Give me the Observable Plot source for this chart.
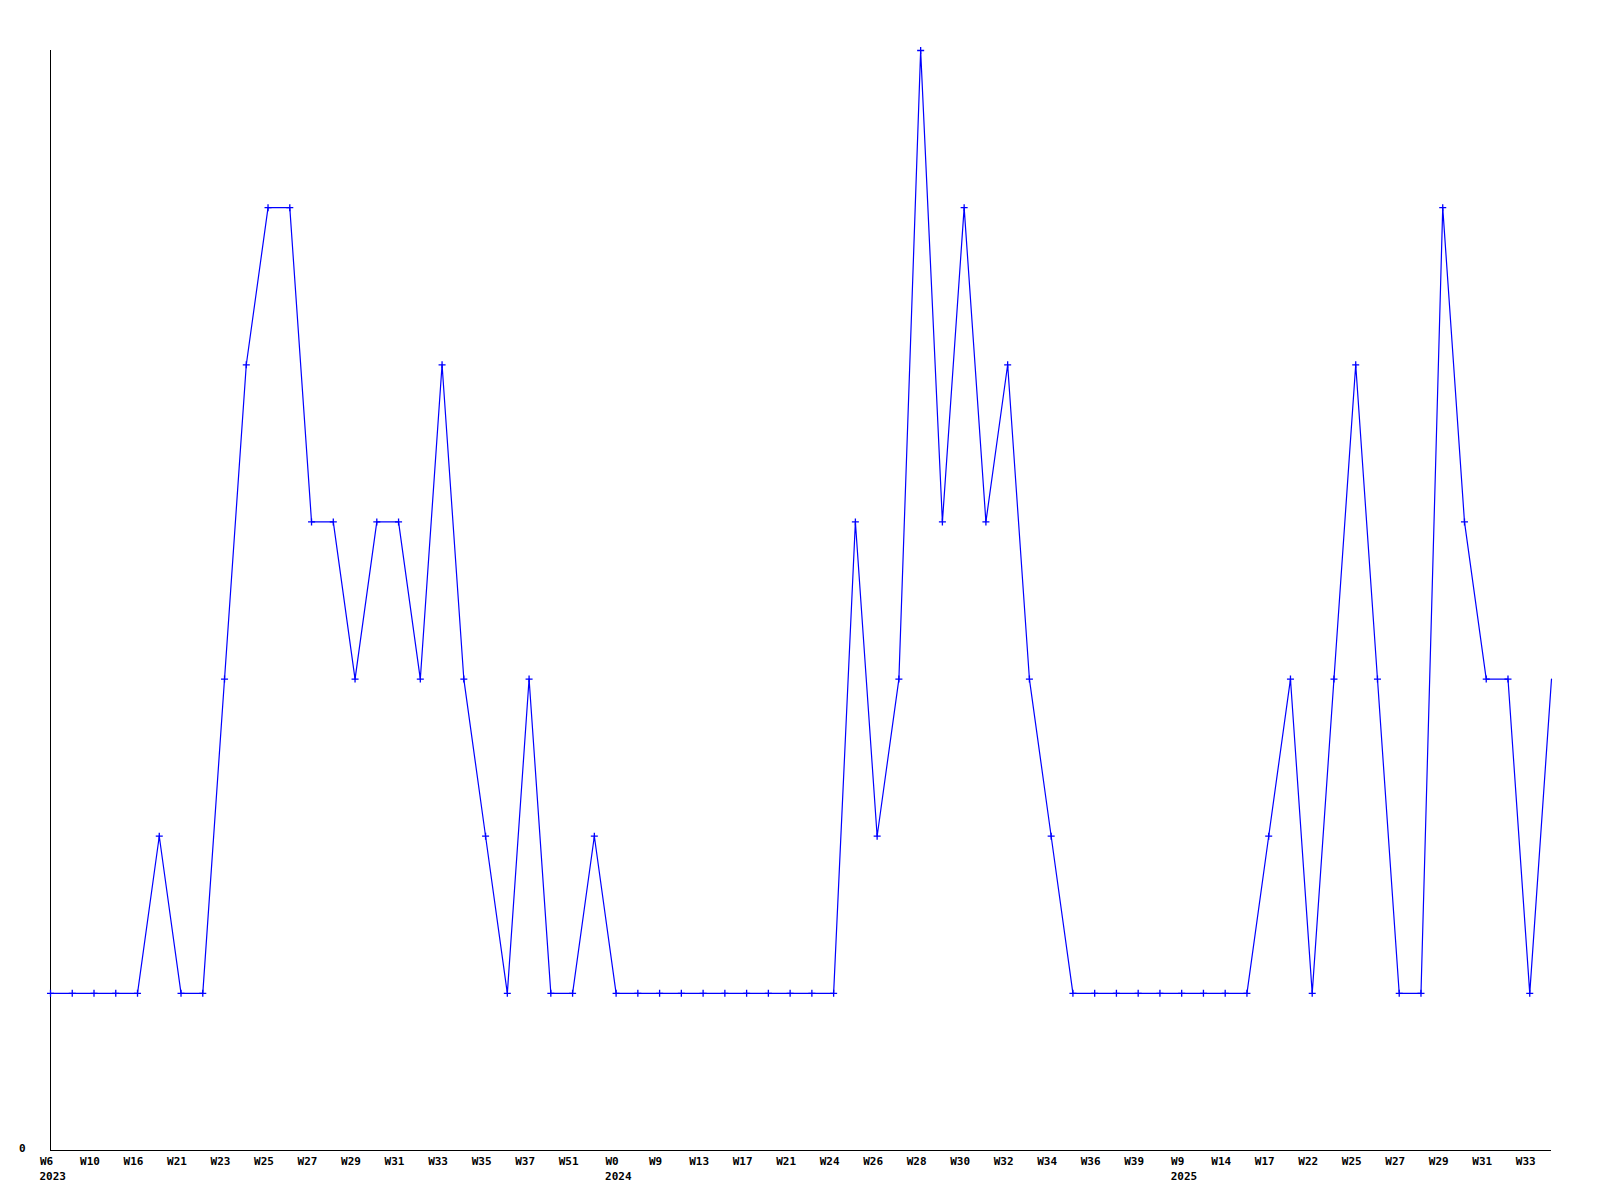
<!DOCTYPE html>
<html>
<head>
<meta charset="utf-8">
<script src="https://cdn.jsdelivr.net/npm/d3@7"></script>
<script src="https://cdn.jsdelivr.net/npm/@observablehq/plot@0.6"></script>
<style>
  html, body { margin: 0; padding: 0; background: #fff; }
  #chart svg { display: block; }
</style>
</head>
<body>
<div id="chart"></div>
<script>
// Week labels of each data point (ordinal, equally spaced)
const weeks = [
  "W6","W8","W10","W14","W16","W19","W21","W22","W23","W24",
  "W25","W26","W27","W28","W29","W30","W31","W32","W33","W34",
  "W35","W36","W37","W44","W51","W52",
  "W0","W5","W9","W11","W13","W15","W17","W19","W21","W23",
  "W24","W25","W26","W27","W28","W29","W30","W31","W32","W33",
  "W34","W35","W36","W38","W39","W48",
  "W9","W12","W14","W16","W17","W20","W22","W24","W25","W26",
  "W27","W28","W29","W30","W31","W32","W33","W34"
];
const years = [
  2023,2023,2023,2023,2023,2023,2023,2023,2023,2023,
  2023,2023,2023,2023,2023,2023,2023,2023,2023,2023,
  2023,2023,2023,2023,2023,2023,
  2024,2024,2024,2024,2024,2024,2024,2024,2024,2024,
  2024,2024,2024,2024,2024,2024,2024,2024,2024,2024,
  2024,2024,2024,2024,2024,2024,
  2025,2025,2025,2025,2025,2025,2025,2025,2025,2025,
  2025,2025,2025,2025,2025,2025,2025,2025
];
const values = [
  1,1,1,1,1,2,1,1,3,5,
  6,6,4,4,3,4,4,3,5,3,
  2,1,3,1,1,2,
  1,1,1,1,1,1,1,1,1,1,
  1,4,2,3,7,4,6,4,5,3,
  2,1,1,1,1,1,
  1,1,1,1,2,3,1,3,5,3,
  1,1,6,4,3,3,1,3
];

const data = weeks.map((w, i) => ({key: years[i] + "-" + w, week: w, year: years[i], value: values[i]}));
const keys = data.map(d => d.key);
// every other point carries a label; year shown under the first labelled week of each year
const labelled = data.filter((d, i) => i % 2 === 0);
const yearRows = labelled.filter((d, i) => i === 0 || labelled[i - 1].year !== d.year);

const font = "'DejaVu Sans Mono', monospace";

const chart = Plot.plot({
  width: 1600,
  height: 1200,
  marginLeft: 50,
  marginRight: 49,
  marginTop: 50,
  marginBottom: 50,
  style: {fontFamily: font, fontSize: "11px", fontWeight: "bold", background: "#fff", color: "#000"},
  x: {type: "point", domain: keys, padding: 0, axis: null},
  y: {domain: [0, 7], axis: null},
  marks: [
    Plot.ruleY([0], {stroke: "#000", strokeWidth: 1, shapeRendering: "crispEdges"}),
    Plot.frame({anchor: "left", stroke: "#000", strokeWidth: 1, shapeRendering: "crispEdges"}),
    Plot.text([0], {frameAnchor: "bottom-left", text: d => String(d), dx: -25, dy: 1, textAnchor: "end", fill: "#000"}),
    Plot.line(data, {x: "key", y: "value", stroke: "#0000ff", strokeWidth: 1.2}),
    Plot.dot(data.slice(0, -1), {x: "key", y: "value", symbol: "plus", r: 2.4, fill: "#0000ff", stroke: "#0000ff", strokeWidth: 1.3}),
    Plot.text(labelled, {x: "key", text: "week", frameAnchor: "bottom", dy: 14, dx: -4, fill: "#000"}),
    Plot.text(yearRows, {x: "key", text: d => String(d.year), frameAnchor: "bottom", dy: 29, dx: -11, textAnchor: "start", fill: "#000"})
  ]
});
document.getElementById("chart").appendChild(chart);
</script>
</body>
</html>
